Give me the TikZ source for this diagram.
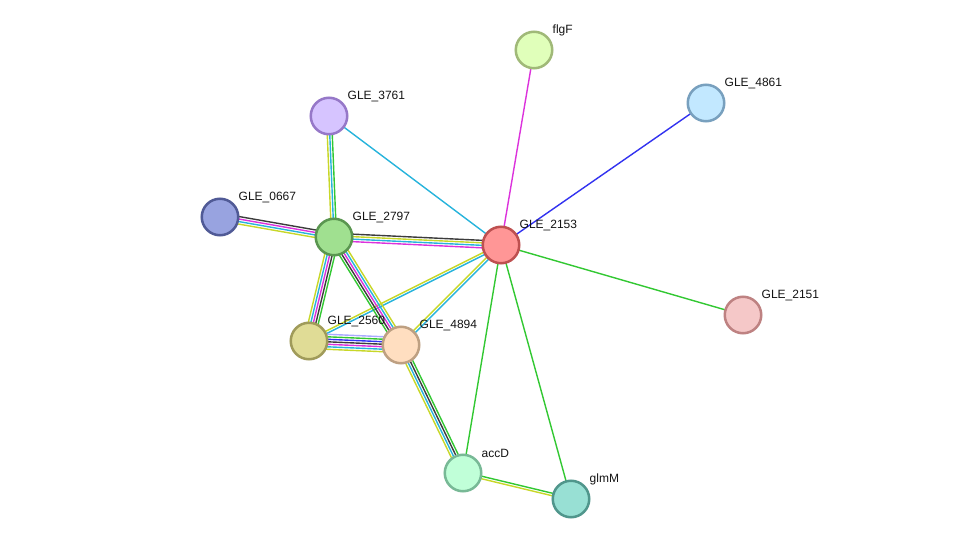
\documentclass[tikz,border=0pt]{standalone}
\usepackage{fontspec}
\setmainfont{Liberation Sans}
\usepackage{xcolor}
\usetikzlibrary{calc, backgrounds}

% evidence colours
\definecolor{nbh}{RGB}{50,200,50}
\definecolor{txt}{RGB}{200,215,40}
\definecolor{dbs}{RGB}{40,180,220}
\definecolor{exp}{RGB}{220,50,220}
\definecolor{coex}{RGB}{60,60,60}
\definecolor{cooc}{RGB}{50,50,240}
\definecolor{homo}{RGB}{170,170,255}
\definecolor{labeltext}{RGB}{20,20,20}

\tikzset{
    gene/.style={circle, line width=2.5pt, minimum size=36.5pt, inner sep=0pt},
    genelabel/.style={inner sep=0pt, xshift=-1pt, yshift=19.5pt,
        font=\fontsize{12}{14}\selectfont, text=labeltext},
    link/.style={line width=1.4pt},
}

% parallel evidence lines between two genes
\newcommand{\genelink}[3]{%
    \foreach \c [count=\i] in {#3} {\xdef\nlines{\i}}%
    \foreach \c [count=\i] in {#3} {%
        \pgfmathsetmacro\off{(\i-(\nlines+1)/2)*2.5}%
        \draw[link, \c] ($(#1)!\off pt!90:(#2)$) -- ($(#2)!\off pt!-90:(#1)$);
    }%
}

\begin{document}
\begin{tikzpicture}[x=1pt, y=-1pt]
    \useasboundingbox (0,0) rectangle (975,545);

    \node[gene, fill={rgb,255:red,224;green,255;blue,186}, draw={rgb,255:red,160;green,185;blue,120},
          label={[genelabel]east:flgF}]     (flgF)  at (534,50)  {};
    \node[gene, fill={rgb,255:red,194;green,232;blue,255}, draw={rgb,255:red,120;green,160;blue,190},
          label={[genelabel]east:GLE\_4861}] (g4861) at (706,103) {};
    \node[gene, fill={rgb,255:red,214;green,196;blue,255}, draw={rgb,255:red,150;green,120;blue,200},
          label={[genelabel]east:GLE\_3761}] (g3761) at (329,116) {};
    \node[gene, fill={rgb,255:red,152;green,163;blue,224}, draw={rgb,255:red,80;green,90;blue,150},
          label={[genelabel]east:GLE\_0667}] (g0667) at (220,217) {};
    \node[gene, fill={rgb,255:red,160;green,224;blue,144}, draw={rgb,255:red,90;green,150;blue,80},
          label={[genelabel]east:GLE\_2797}] (g2797) at (334,237) {};
    \node[gene, fill={rgb,255:red,255;green,150;blue,150}, draw={rgb,255:red,190;green,80;blue,80},
          label={[genelabel]east:GLE\_2153}] (g2153) at (501,245) {};
    \node[gene, fill={rgb,255:red,245;green,200;blue,200}, draw={rgb,255:red,190;green,130;blue,130},
          label={[genelabel]east:GLE\_2151}] (g2151) at (743,315) {};
    \node[gene, fill={rgb,255:red,224;green,220;blue,150}, draw={rgb,255:red,160;green,155;blue,90},
          label={[genelabel]east:GLE\_2560}] (g2560) at (309,341) {};
    \node[gene, fill={rgb,255:red,255;green,222;blue,192}, draw={rgb,255:red,190;green,160;blue,130},
          label={[genelabel]east:GLE\_4894}] (g4894) at (401,345) {};
    \node[gene, fill={rgb,255:red,192;green,255;blue,216}, draw={rgb,255:red,120;green,185;blue,150},
          label={[genelabel]east:accD}]     (accD)  at (463,473) {};
    \node[gene, fill={rgb,255:red,152;green,224;blue,212}, draw={rgb,255:red,80;green,150;blue,140},
          label={[genelabel]east:glmM}]     (glmM)  at (571,499) {};

    \begin{scope}[on background layer]
        \fill[white] (0,0) rectangle (975,545);
        \genelink{flgF}{g2153}{exp}
        \genelink{g4861}{g2153}{cooc}
        \genelink{g3761}{g2153}{dbs}
        \genelink{g3761}{g2797}{txt,dbs,nbh}
        \genelink{g0667}{g2797}{txt,dbs,exp,coex}
        \genelink{g2797}{g2153}{exp,dbs,txt,coex}
        \genelink{g2153}{g2151}{nbh}
        \genelink{g2153}{accD}{nbh}
        \genelink{g2153}{glmM}{nbh}
        \genelink{g2153}{g2560}{txt,dbs}
        \genelink{g2153}{g4894}{txt,dbs}
        \genelink{g2797}{g2560}{txt,dbs,exp,coex,nbh}
        \genelink{g2797}{g4894}{nbh,coex,exp,dbs,txt}
        \genelink{g2560}{g4894}{txt,dbs,exp,coex,cooc,nbh,homo}
        \genelink{g4894}{accD}{txt,dbs,coex,nbh}
        \genelink{accD}{glmM}{txt,nbh}
    \end{scope}
\end{tikzpicture}
\end{document}
